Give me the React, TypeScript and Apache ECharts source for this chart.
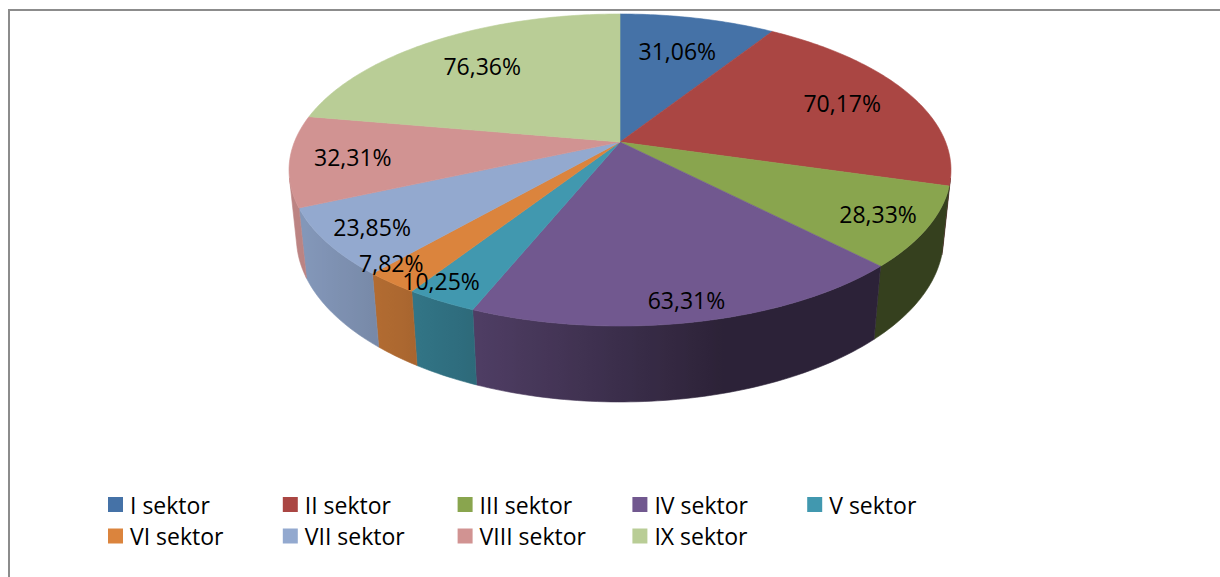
import React, { useEffect, useRef } from 'react';
import * as echarts from 'echarts';

const categories = ['I sektor', 'II sektor', 'III sektor', 'IV sektor', 'V sektor', 'VI sektor', 'VII sektor', 'VIII sektor', 'IX sektor'];
const values = [31.06, 70.17, 28.33, 63.31, 10.25, 7.82, 23.85, 32.31, 76.36];
const colors = ['#4572A7', '#AA4643', '#89A54E', '#71588F', '#4198AF', '#DB843D', '#93A9CF', '#D19392', '#B9CD96'];

const FONT = "'Open Sans', 'Liberation Sans', sans-serif";

// 3D perspective geometry (layout constants)
const CX = 620, CY = 142, S = 325.6;
const SA = 0.4637, CA = 0.886, D = 4.936, T = 0.236;

function project(x: number, y: number, h: number): number[] {
  const v = y * SA + h * CA;
  const w = y * CA - h * SA;
  const f = D / (D + w);
  return [CX + S * x * f, CY - S * v * f];
}

function ptAt(deg: number, r: number, h: number) {
  const t = (deg * Math.PI) / 180;
  return project(r * Math.sin(t), r * Math.cos(t), h);
}

function shade(hex: string, f: number) {
  const n = parseInt(hex.slice(1), 16);
  const r = Math.round(((n >> 16) & 255) * f);
  const g = Math.round(((n >> 8) & 255) * f);
  const b = Math.round((n & 255) * f);
  return `rgb(${r},${g},${b})`;
}

function light(deg: number) {
  return 0.39 + 0.51 * Math.max(0, Math.cos(((deg - 255) * Math.PI) / 180));
}

function fmt(v: number) {
  return v.toFixed(2).replace('.', ',') + '%';
}

export default function App() {
  const ref = useRef<HTMLDivElement>(null);
  useEffect(() => {
    if (!ref.current) return;
    const chart = echarts.init(ref.current, undefined, { renderer: 'svg' });
    const total = values.reduce((a, b) => a + b, 0);
    const cum: number[] = [0];
    values.forEach((v) => cum.push(cum[cum.length - 1] + v));
    const thMin = (Math.acos(-1 / (D * CA)) * 180) / Math.PI;
    const thMax = 360 - thMin;

    const renderItem = (params: any, api: any) => {
      const i = params.dataIndex;
      const v = api.value(0);
      const a0 = (cum[i] / total) * 360;
      const a1 = a0 + (v / total) * 360;
      const color = colors[i];
      const children: any[] = [];

      // front wall
      const b0 = Math.max(a0, thMin);
      const b1 = Math.min(a1, thMax);
      if (b1 > b0) {
        const n = Math.max(2, Math.ceil(b1 - b0));
        const topPts: number[][] = [];
        const botPts: number[][] = [];
        const thetas: number[] = [];
        for (let k = 0; k <= n; k++) {
          const th = b0 + ((b1 - b0) * k) / n;
          thetas.push(th);
          topPts.push(ptAt(th, 1, 0));
          botPts.push(ptAt(th, 1, -T));
        }
        const pts = topPts.concat(botPts.slice().reverse());
        let minX = Infinity, maxX = -Infinity;
        pts.forEach((p) => {
          minX = Math.min(minX, p[0]);
          maxX = Math.max(maxX, p[0]);
        });
        const stops: any[] = [];
        for (let k = thetas.length - 1; k >= 0; k--) {
          const x = (topPts[k][0] + botPts[k][0]) / 2;
          let off = (x - minX) / Math.max(1e-6, maxX - minX);
          off = Math.min(1, Math.max(0, off));
          stops.push({ offset: off, color: shade(color, light(thetas[k])) });
        }
        stops.sort((p: any, q: any) => p.offset - q.offset);
        const grad = new echarts.graphic.LinearGradient(0, 0, 1, 0, stops);
        children.push({
          type: 'polygon',
          shape: { points: pts },
          style: { fill: grad, stroke: grad, lineWidth: 0.6 },
        });
      }

      // top face
      const m = Math.max(2, Math.ceil((a1 - a0) / 0.8));
      const face: number[][] = [project(0, 0, 0)];
      for (let k = 0; k <= m; k++) {
        face.push(ptAt(a0 + ((a1 - a0) * k) / m, 1, 0));
      }
      children.push({
        type: 'polygon',
        shape: { points: face },
        style: { fill: color, stroke: color, lineWidth: 0.6 },
      });

      // label (best-fit style: small slices pushed outward horizontally)
      const mid = (a0 + a1) / 2;
      const r = 0.8 - 0.1 * Math.cos((mid * Math.PI) / 180);
      const lp = ptAt(mid, r, 0);
      if (v / total < 0.03) {
        lp[0] = ptAt(mid, 1, 0)[0];
      }
      children.push({
        type: 'text',
        z2: 100,
        x: lp[0],
        y: lp[1],
        style: {
          text: fmt(v),
          fill: '#000',
          font: `23px ${FONT}`,
          align: 'center',
          verticalAlign: 'middle',
        },
      });
      return { type: 'group', children };
    };

    chart.setOption({
      animation: false,
      color: colors,
      graphic: [
        {
          type: 'rect',
          silent: true,
          shape: { x: 9, y: 10, width: 1400, height: 800 },
          style: { fill: 'none', stroke: '#8C8C8C', lineWidth: 2 },
        },
      ],
      legend: categories.map((name, i) => ({
        data: [name],
        left: 108 + (i % 5) * 174.8,
        top: 493 + Math.floor(i / 5) * 31.5,
        padding: 0,
        itemWidth: 15,
        itemHeight: 15,
        icon: 'rect',
        selectedMode: false,
        textStyle: { fontFamily: FONT, fontSize: 23, color: '#000', padding: [0, 0, 0, 2] },
      })),
      series: [
        {
          type: 'custom',
          coordinateSystem: 'none',
          silent: true,
          data: values.map((v) => [v]),
          renderItem,
        },
        {
          type: 'pie',
          radius: 0,
          center: [-200, -200],
          silent: true,
          label: { show: false },
          labelLine: { show: false },
          data: categories.map((name, i) => ({ name, value: values[i] })),
        },
      ],
    });
    return () => chart.dispose();
  }, []);
  return (
    <div
      ref={ref}
      style={{ position: 'fixed', left: 0, top: 0, width: 1220, height: 577, background: '#fff' }}
    />
  );
}
